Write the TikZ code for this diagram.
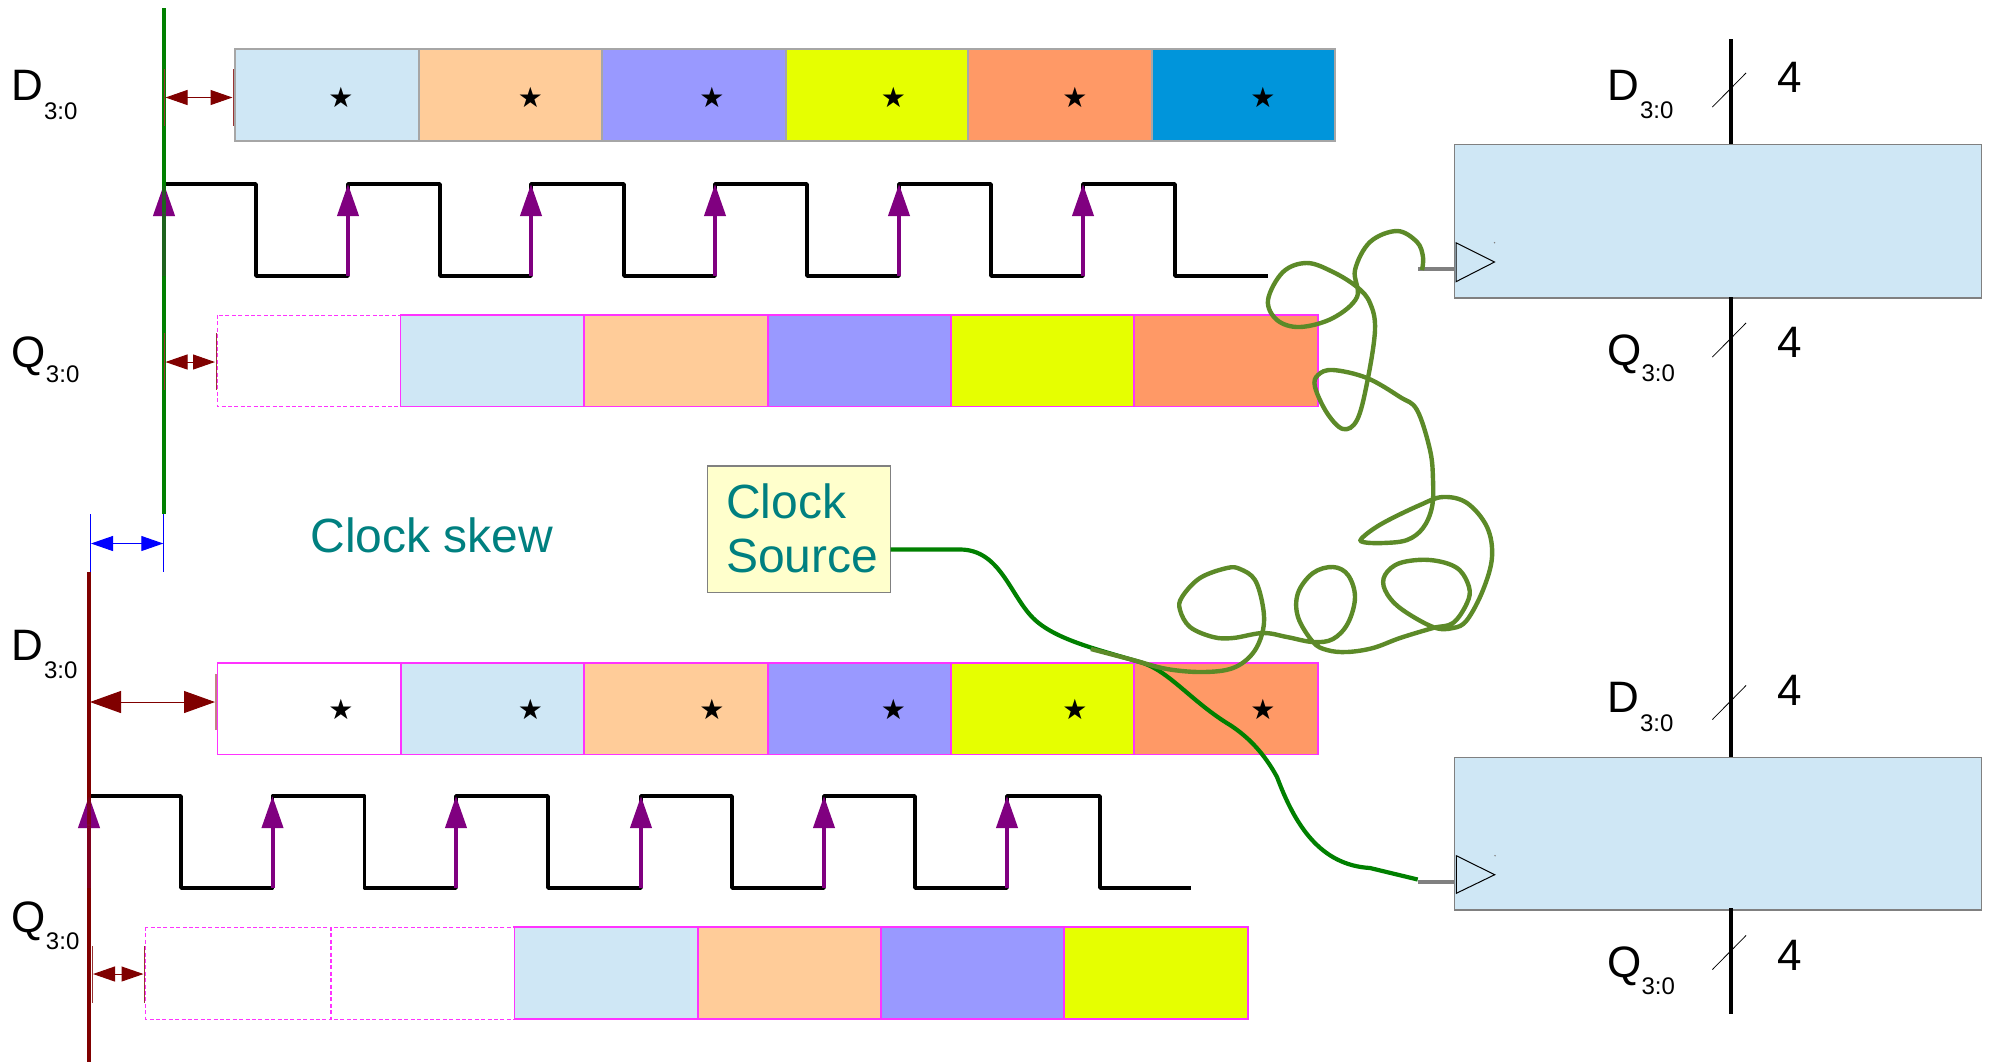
\documentclass[tikz,border=0pt]{standalone}
\usepackage{fontspec}
\setmainfont{Liberation Sans}
\newfontfamily\symfont{DejaVu Sans}
\usetikzlibrary{arrows.meta}
\definecolor{cblue}{HTML}{CFE7F5}
\definecolor{corange}{HTML}{FFCC99}
\definecolor{cperi}{HTML}{9999FF}
\definecolor{cyellow}{HTML}{E6FF00}
\definecolor{cdeep}{HTML}{FF9966}
\definecolor{csky}{HTML}{0095DB}
\definecolor{cmag}{HTML}{FF33FF}
\definecolor{cgrayb}{HTML}{A6A6A6}
\definecolor{cpurple}{HTML}{800080}
\definecolor{cmaroon}{HTML}{800000}
\definecolor{cgreen}{HTML}{008000}
\definecolor{colive}{HTML}{5C8A28}
\definecolor{cteal}{HTML}{008080}
\definecolor{cnote}{HTML}{FFFFCC}
\tikzset{
  lab/.style={font=\fontsize{22}{26}\selectfont,anchor=base west,inner sep=0pt,outer sep=0pt},
  sublab/.style={font=\fontsize{12}{14}\selectfont,anchor=base west,inner sep=0pt,outer sep=0pt},
  starmark/.style={font=\symfont\fontsize{14}{16}\selectfont,inner sep=0pt},
  graycell/.style={draw=cgrayb,line width=.6pt},
  magcell/.style={draw=cmag,line width=.7pt},
  dashcell/.style={draw=cmag,line width=.5pt,dash pattern=on 2pt off 1.2pt,fill=white},
  clockwave/.style={draw=black,line width=1.8pt,line join=round},
  edgearrow/.style={draw=cpurple,line width=2pt,-{Triangle[length=16pt,width=10.5pt]},fill=cpurple},
  skewbig/.style={draw=cmaroon,line width=.5pt,{Triangle[length=15.5pt,width=11pt]}-{Triangle[length=15.5pt,width=11pt]}},
  skewsmall/.style={draw=cmaroon,line width=.5pt,{Triangle[length=11pt,width=7.5pt]}-{Triangle[length=11pt,width=7.5pt]}},
  skewblue/.style={draw=blue,line width=.5pt,{Triangle[length=11pt,width=7.5pt]}-{Triangle[length=11pt,width=7.5pt]}},
  tick/.style={draw=cmaroon!80!white,line width=.5pt},
  bluetick/.style={draw=blue,line width=.5pt},
  bus/.style={draw=black,line width=2pt},
  slash/.style={draw=black,line width=.4pt},
  block/.style={fill=cblue,draw=gray,line width=.6pt,outer sep=0pt},
  tri/.style={draw=black,line width=.5pt},
  stub/.style={draw=gray,line width=2pt},
  darkwire/.style={draw=cgreen,line width=2.1pt},
  olivewire/.style={draw=colive,line width=2.2pt,smooth,tension=.6},
}
\begin{document}
\begin{tikzpicture}[x=.5pt,y=-.5pt]
\useasboundingbox (0,0) rectangle (1990,1062);
\fill[white] (0,0) rectangle (1990,1062);

% --- top D row
\path[graycell,fill=cblue]   (235,49) rectangle (419,141);
\path[graycell,fill=corange] (419,49) rectangle (602,141);
\path[graycell,fill=cperi]   (602,49) rectangle (786,141);
\path[graycell,fill=cyellow] (786,49) rectangle (968,141);
\path[graycell,fill=cdeep]   (968,49) rectangle (1152,141);
\path[graycell,fill=csky]    (1152,49) rectangle (1335,141);
\node[starmark] (s1) at (341,97.5) {★};
\node[starmark] (s2) at (530.5,97.5) {★};
\node[starmark] (s3) at (712,97.5) {★};
\node[starmark] (s4) at (893.5,97.5) {★};
\node[starmark] (s5) at (1075,97.5) {★};
\node[starmark] (s6) at (1263,97.5) {★};

% --- top clock
\coordinate (lowa) at (164,276);
\coordinate (lowb) at (348,276);
\coordinate (lowc) at (531,276);
\coordinate (lowd) at (715,276);
\coordinate (lowe) at (899,276);
\coordinate (lowf) at (1083,276);
\coordinate (higha) at (164,184);
\coordinate (highb) at (348,184);
\coordinate (highc) at (531,184);
\coordinate (highd) at (715,184);
\coordinate (highe) at (899,184);
\coordinate (highf) at (1083,184);
\draw[clockwave] (164,184) -- (256,184) -- (256,276) -- (348,276) -- (348,184) -- (440,184) -- (440,276) -- (531,276) -- (531,184) -- (624,184) -- (624,276) -- (715,276) -- (715,184) -- (807,184) -- (807,276) -- (899,276) -- (899,184) -- (991,184) -- (991,276) -- (1083,276) -- (1083,184) -- (1175,184) -- (1175,276) -- (1268,276);
\draw[edgearrow] (lowa) -- (higha);
\draw[edgearrow] (lowb) -- (highb);
\draw[edgearrow] (lowc) -- (highc);
\draw[edgearrow] (lowd) -- (highd);
\draw[edgearrow] (lowe) -- (highe);
\draw[edgearrow] (lowf) -- (highf);

% --- top Q row
\path[dashcell] (217,315) rectangle (400.5,406.5);
\path[magcell,fill=cblue]   (400.5,315) rectangle (584,406.5);
\path[magcell,fill=corange] (584,315) rectangle (768,406.5);
\path[magcell,fill=cperi]   (768,315) rectangle (951,406.5);
\path[magcell,fill=cyellow] (951,315) rectangle (1134,406.5);
\path[magcell,fill=cdeep]   (1134,315) rectangle (1318,406.5);

% --- green reference line
\coordinate (gtop) at (164,8);
\coordinate (gbot) at (164,514);
\draw[draw=cgreen,line width=2pt] (gtop) -- (gbot);
\draw[edgearrow,opacity=.22] (lowa) -- (higha);

% --- top skew arrows
\coordinate (ta1) at (164.5,69);  \coordinate (ta2) at (164.5,126);
\coordinate (tb1) at (233.3,69);  \coordinate (tb2) at (233.3,126);
\coordinate (tc1) at (164,333);   \coordinate (tc2) at (164,390);
\coordinate (td1) at (216,333);   \coordinate (td2) at (216,390);
\draw[tick] (ta1) -- (ta2);
\draw[tick] (tb1) -- (tb2);
\draw[tick] (tc1) -- (tc2);
\draw[tick] (td1) -- (td2);
\coordinate (sa1) at (165.5,97.5); \coordinate (sa2) at (232.5,97.5);
\coordinate (sb1) at (165.5,362);  \coordinate (sb2) at (215,362);
\draw[skewsmall] (sa1) -- (sa2);
\draw[skewsmall] (sb1) -- (sb2);

% --- blue clock skew marker
\coordinate (ba1) at (90.5,514); \coordinate (ba2) at (90.5,572);
\coordinate (bb1) at (163.8,514); \coordinate (bb2) at (163.8,572);
\draw[bluetick] (ba1) -- (ba2);
\draw[bluetick] (bb1) -- (bb2);
\coordinate (bc1) at (91,543.5); \coordinate (bc2) at (163.3,543.5);
\draw[skewblue] (bc1) -- (bc2);
\node[font=\fontsize{24}{28}\selectfont,text=cteal,anchor=base west,inner sep=0pt,outer sep=0pt] (skew) at (310.5,552) {Clock skew};

% --- bottom D row
\path[magcell,fill=white]   (217.5,663) rectangle (401,754.5);
\path[magcell,fill=cblue]   (401,663) rectangle (584,754.5);
\path[magcell,fill=corange] (584,663) rectangle (768,754.5);
\path[magcell,fill=cperi]   (768,663) rectangle (951,754.5);
\path[magcell,fill=cyellow] (951,663) rectangle (1134,754.5);
\path[magcell,fill=cdeep]   (1134,663) rectangle (1318,754.5);
\node[starmark] (r1) at (341,709.7) {★};
\node[starmark] (r2) at (530.5,709.7) {★};
\node[starmark] (r3) at (712,709.7) {★};
\node[starmark] (r4) at (893.5,709.7) {★};
\node[starmark] (r5) at (1075,709.7) {★};
\node[starmark] (r6) at (1263,709.7) {★};

% --- bottom clock
\coordinate (lowg) at (89,888);
\coordinate (lowh) at (272.5,888);
\coordinate (lowi) at (456,888);
\coordinate (lowj) at (641,888);
\coordinate (lowk) at (824,888);
\coordinate (lowl) at (1007,888);
\coordinate (highg) at (89,796);
\coordinate (highh) at (272.5,796);
\coordinate (highi) at (456,796);
\coordinate (highj) at (641,796);
\coordinate (highk) at (824,796);
\coordinate (highl) at (1007,796);
\draw[clockwave] (89,796) -- (181,796) -- (181,888) -- (272.5,888) -- (272.5,796) -- (364.5,796) -- (364.5,888) -- (456,888) -- (456,796) -- (548,796) -- (548,888) -- (641,888) -- (641,796) -- (732,796) -- (732,888) -- (824,888) -- (824,796) -- (915,796) -- (915,888) -- (1007,888) -- (1007,796) -- (1100,796) -- (1100,888) -- (1191,888);
\draw[edgearrow] (lowg) -- (highg);
\draw[edgearrow] (lowh) -- (highh);
\draw[edgearrow] (lowi) -- (highi);
\draw[edgearrow] (lowj) -- (highj);
\draw[edgearrow] (lowk) -- (highk);
\draw[edgearrow] (lowl) -- (highl);

% --- bottom Q row
\path[magcell,fill=cblue]   (514,927) rectangle (698,1019);
\path[magcell,fill=corange] (698,927) rectangle (881,1019);
\path[magcell,fill=cperi]   (881,927) rectangle (1064,1019);
\path[magcell,fill=cyellow] (1064,927) rectangle (1248,1019);
\path[dashcell] (145.5,927) rectangle (330,1019);
\path[dashcell] (330,927) rectangle (514,1019);
\draw[dashcell,fill=none] (331,927) -- (331,1019);

% --- red reference line
\coordinate (rtop) at (89,572);
\coordinate (rbot) at (89,1062);
\draw[draw=cmaroon,line width=2pt] (rtop) -- (rbot);
\draw[edgearrow,opacity=.22] (lowg) -- (highg);

% --- bottom skew arrows
\coordinate (te1) at (216,674);  \coordinate (te2) at (216,730);
\coordinate (tf1) at (92.5,946); \coordinate (tf2) at (92.5,1002.5);
\coordinate (tg1) at (144,946);  \coordinate (tg2) at (144,1002.5);
\draw[tick,opacity=.6,line width=.9pt] (te1) -- (te2);
\draw[tick] (tf1) -- (tf2);
\draw[tick] (tg1) -- (tg2);
\coordinate (sc1) at (90,702); \coordinate (sc2) at (215,702);
\coordinate (sd1) at (93,974); \coordinate (sd2) at (143.5,974);
\draw[skewbig] (sc1) -- (sc2);
\draw[skewsmall] (sd1) -- (sd2);

% --- left labels
\node[lab] (ld1) at (11.5,100.5) {D};
\node[sublab] (ld1s) at (44,119.5) {3:0};
\node[lab] (lq1) at (11.5,367) {Q};
\node[sublab] (lq1s) at (46,382) {3:0};
\node[lab] (ld2) at (11.5,660) {D};
\node[sublab] (ld2s) at (44,678) {3:0};
\node[lab] (lq2) at (11.5,932) {Q};
\node[sublab] (lq2s) at (46,949) {3:0};

% --- clock source
\node[draw=gray,line width=.6pt,fill=cnote,minimum width=91.7pt,minimum height=63.2pt,inner sep=0pt,outer sep=0pt,anchor=north west] (src) at (707.3,466) {};
\node[font=\fontsize{24}{28}\selectfont,text=cteal,anchor=base west,inner sep=0pt,outer sep=0pt] (srca) at (726,518.5) {Clock};
\node[font=\fontsize{24}{28}\selectfont,text=cteal,anchor=base west,inner sep=0pt,outer sep=0pt] (srcb) at (726,572.5) {Source};

% --- right blocks
\coordinate (bus1) at (1730.5,39);
\coordinate (bus2) at (1730.5,144.5);
\coordinate (bus3) at (1730.5,297);
\coordinate (bus4) at (1730.5,656);
\coordinate (bus5) at (1730.8,653);
\coordinate (bus6) at (1730.8,757.5);
\coordinate (bus7) at (1730.5,908);
\coordinate (bus8) at (1730.5,1014);
\draw[bus] (bus1) -- (bus2);
\draw[bus] (bus3) -- (bus4);
\draw[bus] (bus5) -- (bus6);
\draw[bus] (bus7) -- (bus8);
\node[block,minimum width=263.5pt,minimum height=76.75pt,inner sep=0pt,anchor=north west] (ffa) at (1454.5,144.5) {};
\node[block,minimum width=263.5pt,minimum height=76.25pt,inner sep=0pt,anchor=north west] (ffb) at (1454.5,757.5) {};
\draw[bus] (1730.5,297) -- (1730.5,300);
\draw[bus] (1730.5,908) -- (1730.5,912);
\coordinate (sl1a) at (1712.4,107);  \coordinate (sl1b) at (1746,73);
\coordinate (sl2a) at (1712.4,357);  \coordinate (sl2b) at (1746,323);
\coordinate (sl3a) at (1712.4,719.5);\coordinate (sl3b) at (1746,685.5);
\coordinate (sl4a) at (1712.4,969.5);\coordinate (sl4b) at (1746,935.5);
\draw[slash] (sl1a) -- (sl1b);
\draw[slash] (sl2a) -- (sl2b);
\draw[slash] (sl3a) -- (sl3b);
\draw[slash] (sl4a) -- (sl4b);
\node[lab] (rd1) at (1607,100) {D};
\node[sublab] (rd1s) at (1640,118.7) {3:0};
\node[lab] (rq1) at (1607.5,365) {Q};
\node[sublab] (rq1s) at (1641.5,381.7) {3:0};
\node[lab] (rn1) at (1777.5,92.5) {4};
\node[lab] (rn2) at (1777.5,357.5) {4};
\node[lab] (rd2) at (1607,712.5) {D};
\node[sublab] (rd2s) at (1640,731.2) {3:0};
\node[lab] (rq2) at (1607.5,977.5) {Q};
\node[sublab] (rq2s) at (1641.5,994.2) {3:0};
\node[lab] (rn3) at (1777.5,705) {4};
\node[lab] (rn4) at (1777.5,970) {4};

% --- clock triangles
\draw[tri] (1456,242.7) -- (1494.5,262) -- (1456,281.7) -- cycle;
\draw[tri] (1456.3,855.7) -- (1494.7,874.7) -- (1456.3,893.3) -- cycle;
\fill[gray] (1494.5,242.7) circle (.4pt);
\fill[gray] (1495,855.7) circle (.4pt);
\coordinate (stuba) at (1418,269.3);
\coordinate (stubb) at (1417.7,881.7);
\draw[stub] (stuba) -- (stuba -| ffa.west);
\draw[stub] (stubb) -- (stubb -| ffb.west);

% --- wires
\coordinate (wa) at (960,549.5);
\coordinate (wend) at (1417.7,879.5);
\draw[darkwire] (src.east |- wa) -- (wa)
  .. controls (1000,549.5) and (1010,595) .. (1033,618)
  .. controls (1055,640) and (1100,650) .. (1143,663)
  .. controls (1170,672) and (1192,702) .. (1230,725)
  .. controls (1250,738) and (1265,755) .. (1277,777)
  .. controls (1295,825) and (1320,865) .. (1370,868)
  -- (wend);
\draw[olivewire] plot coordinates {(1091,649) (1133,660) (1167,669) (1203,672) (1233,668) (1253,653) (1263,630) (1263,607) (1255,580) (1240,569) (1227,568) (1200,578) (1182,597) (1180,610) (1190,627) (1213,637) (1233,638) (1263,633) (1287,637) (1313,642) (1333,639) (1348,623) (1355,597) (1348,575) (1333,567) (1313,573) (1298,593) (1298,617) (1313,642) (1327,650) (1347,652) (1373,648) (1400,638) (1433,628) (1453,623) (1467,603) (1469,587) (1457,568) (1430,560) (1400,563) (1385,575) (1385,590) (1400,608) (1433,627) (1453,628) (1467,620) (1483,590) (1492,557) (1487,527) (1467,503) (1443,497) (1420,505) (1383,523) (1363,537) (1363,542) (1383,543) (1407,540) (1423,528) (1432,507) (1433,480) (1430,450) (1417,410) (1400,397) (1367,378) (1333,370) (1318,375) (1315,387) (1327,413) (1343,429) (1357,420) (1367,383) (1375,330) (1370,303) (1357,287) (1333,272) (1307,263) (1283,272) (1268,300) (1277,320) (1300,327) (1333,318) (1357,297) (1355,270) (1370,242) (1397,231) (1417,242) (1423,257) (1422,270)};
\end{tikzpicture}
\end{document}
